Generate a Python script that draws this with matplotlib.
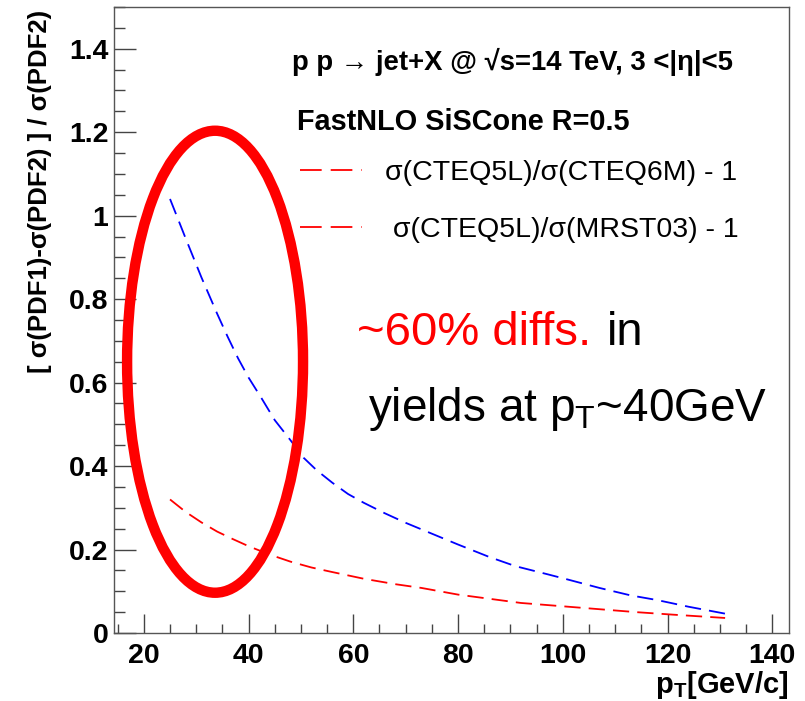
import matplotlib
matplotlib.use("Agg")
import matplotlib.pyplot as plt
from matplotlib.patches import Ellipse
from matplotlib.lines import Line2D
from matplotlib.ticker import MultipleLocator

plt.rcParams['font.family'] = ['Liberation Sans', 'DejaVu Sans']
plt.rcParams['mathtext.fontset'] = 'custom'
plt.rcParams['mathtext.rm'] = 'Liberation Sans'
plt.rcParams['mathtext.bf'] = 'Liberation Sans:bold'
plt.rcParams['mathtext.it'] = 'Liberation Sans:italic'

# sigma(CTEQ5L)/sigma(CTEQ6M) - 1  (blue)
pt_6m = [25, 28, 31, 34, 36, 38, 40, 42.5, 45, 48, 50.5, 53, 56, 59, 62, 66,
         70, 75, 80, 86, 91, 97, 101, 107, 113, 118, 124, 132]
ratio_6m = [1.04, 0.945, 0.852, 0.765, 0.71, 0.658, 0.612, 0.562, 0.51, 0.462,
            0.42, 0.39, 0.36, 0.333, 0.312, 0.287, 0.264, 0.238, 0.212,
            0.182, 0.16, 0.141, 0.128, 0.108, 0.09, 0.079, 0.063, 0.044]

# sigma(CTEQ5L)/sigma(MRST03) - 1  (red)
pt_mrst = [25, 28, 31, 34, 37, 40, 44, 48, 52, 56, 62, 68, 73, 80, 86, 92,
           100, 107, 114, 121, 126, 131]
ratio_mrst = [0.32, 0.29, 0.265, 0.243, 0.225, 0.208, 0.188, 0.171, 0.157,
              0.146, 0.13, 0.117, 0.108, 0.092, 0.082, 0.072, 0.064, 0.057,
              0.05, 0.044, 0.04, 0.036]

leg_labels = ["σ(CTEQ5L)/σ(CTEQ6M) - 1", " σ(CTEQ5L)/σ(MRST03) - 1"]

W, H = 805, 701
fig = plt.figure(figsize=(W / 100, H / 100), dpi=100)
ax = fig.add_axes([114 / W, 1 - 633 / H, 675 / W, 626 / H])

dash = (9, 4.5)
ax.plot(pt_6m, ratio_6m, color='blue', lw=1.3, dashes=dash)
ax.plot(pt_mrst, ratio_mrst, color='red', lw=1.3, dashes=dash)

# hand drawn highlight ellipse
ax.add_patch(Ellipse((33.6, 0.65), 33.6, 1.107, fill=False,
                     edgecolor='red', lw=7.5, zorder=5))

ax.set_xlim(14.3, 143.2)
ax.set_ylim(0, 1.5)
ax.xaxis.set_major_locator(MultipleLocator(20))
ax.xaxis.set_minor_locator(MultipleLocator(5))
ax.yaxis.set_minor_locator(MultipleLocator(0.05))
ax.set_yticks([0, 0.2, 0.4, 0.6, 0.8, 1.0, 1.2, 1.4])
ax.set_yticklabels(['0', '0.2', '0.4', '0.6', '0.8', '1', '1.2', '1.4'])

ax.tick_params(which='both', direction='in', top=False, right=False,
               color='#444444', width=1)
ax.tick_params(axis='y', which='major', length=15.6, pad=4, labelsize=20.5)
ax.tick_params(axis='y', which='minor', length=7.9)
ax.tick_params(axis='x', which='major', length=13.7, pad=7, labelsize=20.5)
ax.tick_params(axis='x', which='minor', length=6.7)
for lab in ax.get_xticklabels() + ax.get_yticklabels():
    lab.set_fontweight('bold')
for sp in ax.spines.values():
    sp.set_color('#555555')
    sp.set_linewidth(1)

fig.text(40 / W, 1 - 10 / H, "[ σ(PDF1)-σ(PDF2) ] / σ(PDF2)", rotation=90,
         ha='center', va='top', fontsize=18.5, fontweight='bold')
fig.text(789 / W, 1 - 693 / H, r"p$_\mathbf{T}$[GeV/c]", ha='right',
         va='baseline', fontsize=21, fontweight='bold')

fig.text(292 / W, 1 - 62 / H, "p p → jet+X @ √s=14 TeV, 3 <|η|<5",
         ha='left', va='center', fontsize=19.8, fontweight='bold')
fig.text(297 / W, 1 - 122 / H, "FastNLO SiSCone R=0.5",
         ha='left', va='center', fontsize=20.8, fontweight='bold')

handles = [Line2D([], [], color='red', lw=1.3, dashes=(12, 5)),
           Line2D([], [], color='red', lw=1.3, dashes=(12, 5))]
ax.legend(handles, leg_labels, loc='upper left', frameon=False,
          bbox_to_anchor=(300 / W, 1 - 160 / H), bbox_transform=fig.transFigure,
          fontsize=20.5, handlelength=2.18, handletextpad=0.8,
          labelspacing=1.08, borderpad=0, borderaxespad=0)

fig.text(357 / W, 1 - 345 / H, "~60% diffs.", color='red', fontsize=34,
         ha='left', va='baseline')
fig.text(607 / W, 1 - 345 / H, "in", color='black', fontsize=34,
         ha='left', va='baseline')
fig.text(368 / W, 1 - 421 / H, r"yields at p$_\mathrm{T}$~40GeV",
         color='black', fontsize=33, ha='left', va='baseline')

fig.savefig("out.png", dpi=100)
